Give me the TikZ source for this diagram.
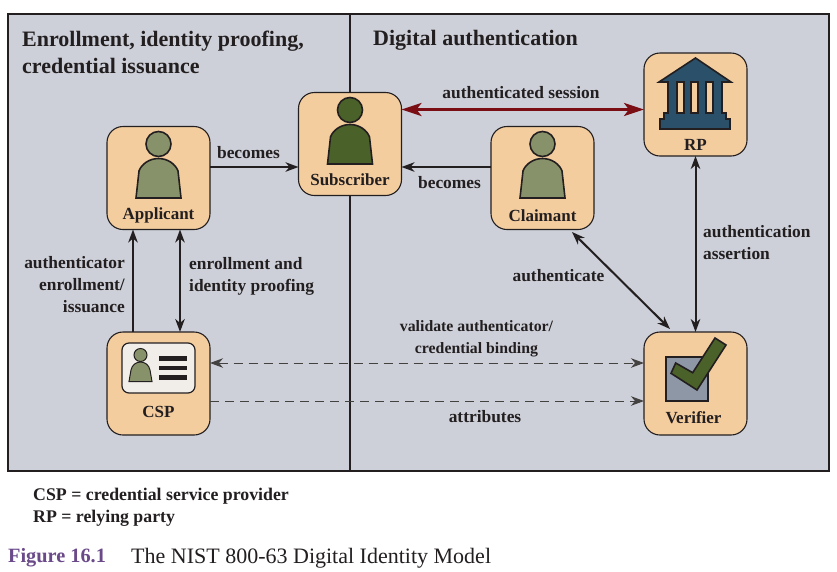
\documentclass[tikz,border=0pt]{standalone}
\usepackage{fontspec}
\setmainfont{Liberation Serif}
\usetikzlibrary{arrows.meta}
\definecolor{panel}{HTML}{CDD0D9}
\definecolor{boxfill}{HTML}{F4CD9F}
\definecolor{inkc}{HTML}{231F20}
\definecolor{personlight}{HTML}{88926A}
\definecolor{persondark}{HTML}{4A6129}
\definecolor{bank}{HTML}{2B5069}
\definecolor{redc}{HTML}{7A0E14}
\definecolor{greyc}{HTML}{8D97A5}
\definecolor{cardc}{HTML}{F1EEEA}
\definecolor{purplec}{HTML}{6B4A8A}
\tikzset{
  >={Stealth[length=13pt,width=9.5pt,inset=4pt]},
  actor/.style={draw=inkc,line width=1.1pt,fill=boxfill,rounded corners=16pt,minimum width=103pt,minimum height=103pt,inner sep=0pt,outer sep=0pt},
  boxlabel/.style={font=\fontsize{17}{20}\selectfont\bfseries,text=inkc,inner sep=0pt},
  lbl/.style={font=\fontsize{17.4}{22}\selectfont\bfseries,text=inkc,inner sep=0pt},
  titlelbl/.style={font=\fontsize{22}{27}\selectfont\bfseries,text=inkc,inner sep=0pt,anchor=west,align=left},
  conn/.style={draw=inkc,line width=2pt},
  dconn/.style={draw=inkc!85,line width=0.9pt,dash pattern=on 9pt off 6pt},
  redconn/.style={draw=redc,line width=2.8pt,{Stealth[length=20pt,width=13pt,inset=5pt]}-{Stealth[length=20pt,width=13pt,inset=5pt]}},
  icon/.style={draw=inkc,line width=1.6pt,line join=miter},
}
% person icon: #1 centre x, #2 centre y of the box, #3 fill
\newcommand{\personicon}[3]{%
  \draw[icon,fill=#3] (#1-22.5,#2+20) -- (#1-19.5,#2-7) .. controls (#1-17,#2-14) and (#1-9,#2-19.5) .. (#1,#2-19.5)
    .. controls (#1+9,#2-19.5) and (#1+17,#2-14) .. (#1+19.5,#2-7) -- (#1+22.5,#2+20) -- cycle;
  \draw[icon,fill=#3] (#1,#2-34) circle (12.5);
}
\begin{document}
\begin{tikzpicture}[x=1pt,y=-1pt]
\useasboundingbox (0,0) rectangle (837,571);
\fill[white] (0,0) rectangle (837,571);
% panels
\draw[draw=inkc,line width=1.8pt,fill=panel] (8,14) rectangle (829,471);
\draw[draw=inkc,line width=1.8pt] (350,14) -- (350,471);
% titles
\node[titlelbl] (t1) at (22,52.5) {Enrollment, identity proofing,\\credential issuance};
\node[titlelbl] (t2) at (373,40) {Digital authentication};
% boxes
\node[actor] (app) at (158.5,178) {};
\node[actor] (sub) at (350,144) {};
\node[actor] (cla) at (542.5,178) {};
\node[actor] (rp) at (695.5,104.5) {};
\node[actor] (csp) at (158.5,383.5) {};
\node[actor] (ver) at (695.5,383.5) {};
% icons
\personicon{158.5}{178}{personlight}
\personicon{350}{144}{persondark}
\personicon{542.5}{178}{personlight}
% bank
\draw[icon,fill=bank] (695.5,58) -- (731,82) -- (722,82) -- (722,113) -- (726,113) -- (726,119) -- (730,119) -- (730,129)
  -- (660,129) -- (660,119) -- (664,119) -- (664,113) -- (668,113) -- (668,82) -- (659,82) -- cycle;
\draw[icon,fill=boxfill] (677,82) rectangle (684,113);
\draw[icon,fill=boxfill] (691,82) rectangle (698,113);
\draw[icon,fill=boxfill] (706,82) rectangle (713,113);
% card
\draw[draw=inkc,line width=1.2pt,fill=cardc,rounded corners=7pt] (122,343) rectangle (195,393);
\draw[draw=inkc,line width=1pt,fill=personlight] (129,381.5) -- (131,370) .. controls (132,365) and (136,362) .. (140.5,362)
  .. controls (145,362) and (149,365) .. (150,370) -- (152,381.5) -- cycle;
\draw[draw=inkc,line width=1pt,fill=personlight] (140.5,355) circle (6.5);
\fill[inkc] (158.5,356) rectangle (187,360.5);
\fill[inkc] (158.5,365.5) rectangle (187,370);
\fill[inkc] (158.5,375) rectangle (187,379.5);
% check
\draw[icon,fill=greyc] (665.7,357) rectangle (708,400.7);
\draw[icon,fill=persondark] (715,338) -- (726,345) -- (697,390) -- (671,373.3) -- (675.7,363) -- (692.7,372.7) -- cycle;
% box labels
\node[boxlabel] (lapp) at (158.5,215.5) {Applicant};
\node[boxlabel] (lsub) at (350,180) {Subscriber};
\node[boxlabel] (lcla) at (542.5,216) {Claimant};
\node[boxlabel] (lrp) at (695.5,144.5) {RP};
\node[boxlabel] (lcsp) at (158.5,411.5) {CSP};
\node[boxlabel] (lver) at (693.5,418) {Verifier};
% connectors
\draw[conn,->] (app.east |- 0,167) -- (sub.west |- 0,167);
\draw[conn,->] (cla.west |- 0,167) -- (sub.east |- 0,167);
\draw[redconn] (sub.east |- 0,109.5) -- (rp.west |- 0,109.5);
\draw[conn,->] (csp.north -| 133,0) -- (app.south -| 133,0);
\draw[conn,<->] (csp.north -| 180,0) -- (app.south -| 180,0);
\coordinate (dgA) at (572,232);
\coordinate (dgB) at (670,329);
\draw[conn,<->] (dgA) -- (dgB);
\draw[conn,<->] (rp.south) -- (ver.north);
\draw[dconn,<->] (csp.east |- 0,363) -- (ver.west |- 0,363);
\draw[dconn,->] (csp.east |- 0,401) -- (ver.west |- 0,401);
% connector labels
\node[lbl] (l1) at (248.5,152.5) {becomes};
\node[lbl] (l2) at (521,92.5) {authenticated session};
\node[lbl] (l3) at (449.5,182.5) {becomes};
\node[lbl,align=right,anchor=east] (l4) at (125,284.5) {authenticator\\enrollment/\\issuance};
\node[lbl,align=left,anchor=west] (l5) at (189,276.5) {enrollment and\\identity proofing};
\node[lbl] (l6) at (558.5,275.5) {authenticate};
\node[lbl,align=left,anchor=west] (l7) at (703,242.5) {authentication\\assertion};
\node[lbl,font=\fontsize{15.8}{22}\selectfont\bfseries,align=center] (l8) at (476.5,339) {validate authenticator/\\credential binding};
\node[lbl] (l9) at (485,416.5) {attributes};
% legend and caption
\node[lbl,font=\fontsize{17.8}{22}\selectfont\bfseries,align=left,anchor=west] (leg) at (33,507.5) {CSP = credential service provider\\RP = relying party};
\node[font=\fontsize{20.3}{24}\selectfont\bfseries,text=purplec,inner sep=0pt,anchor=west] (fig) at (8,558) {Figure 16.1};
\node[font=\fontsize{22}{24}\selectfont,text=inkc,inner sep=0pt,anchor=west] (cap) at (131,558) {The NIST 800-63 Digital Identity Model};
\end{tikzpicture}
\end{document}
